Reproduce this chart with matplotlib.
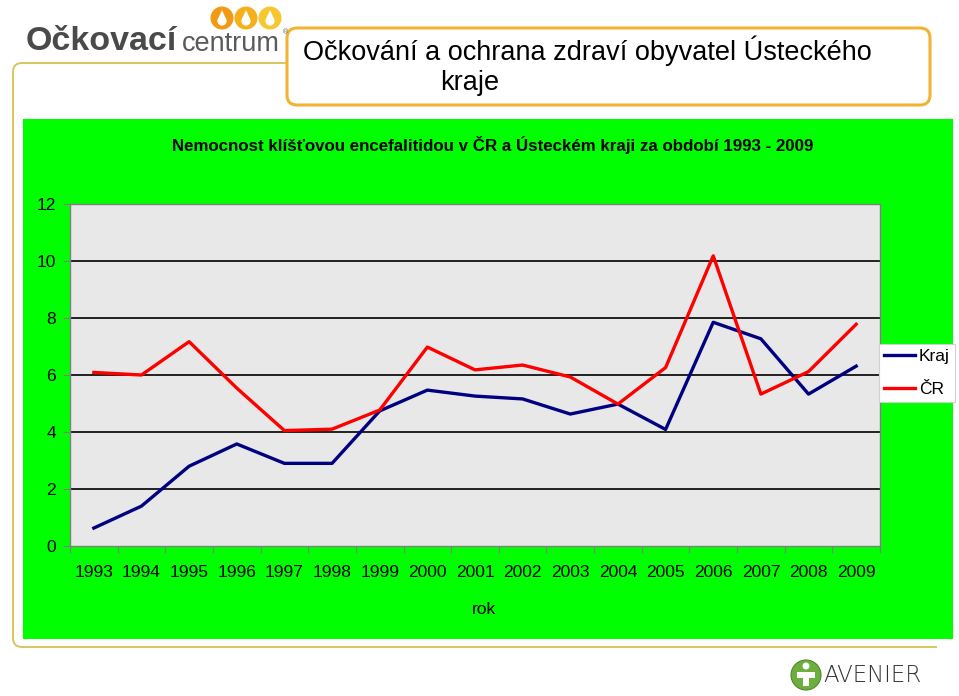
import matplotlib
matplotlib.use('Agg')
import matplotlib.pyplot as plt
from matplotlib.patches import FancyBboxPatch, Rectangle, Circle, Polygon, PathPatch
from matplotlib.path import Path
import numpy as np

# ---- data ----
years = [str(y) for y in range(1993, 2010)]
kraj = [0.63, 1.4, 2.8, 3.58, 2.9, 2.9, 4.74, 5.47, 5.26, 5.16, 4.63, 4.98, 4.09, 7.85, 7.27, 5.33, 6.31]
cr = [6.09, 6.0, 7.17, 5.54, 4.05, 4.1, 4.77, 6.98, 6.18, 6.35, 5.93, 4.98, 6.26, 10.18, 5.33, 6.12, 7.78]
y_ticks = [0, 2, 4, 6, 8, 10, 12]
series_labels = ['Kraj', 'ČR']

plt.rcParams['font.family'] = ['Liberation Sans', 'DejaVu Sans']

W, H = 959, 696
fig = plt.figure(figsize=(W / 100, H / 100), dpi=100)
fig.patch.set_facecolor('white')

# background overlay in pixel coordinates
bg = fig.add_axes([0, 0, 1, 1], zorder=0)
bg.set_xlim(0, W)
bg.set_ylim(H, 0)
bg.axis('off')

# decorative frame line (top-left, left, bottom)
frame_col = '#D8C55A'
verts = [(286, 63), (22, 63), (13, 63), (13, 72), (13, 638), (13, 647), (22, 647), (937, 647)]
codes = [Path.MOVETO, Path.LINETO, Path.CURVE3, Path.CURVE3, Path.LINETO, Path.CURVE3, Path.CURVE3, Path.LINETO]
bg.add_patch(PathPatch(Path(verts, codes), fc='none', ec=frame_col, lw=1.4))

# green chart area
bg.add_patch(Rectangle((23, 119), 930, 520, fc='#00FF00', ec='none'))

# title box
bg.add_patch(FancyBboxPatch((287, 28), 643, 77, boxstyle='round,pad=0,rounding_size=10',
                            fc='white', ec='#F2B233', lw=2.2))
bg.text(303, 51, 'Očkování a ochrana zdraví obyvatel Ústeckého', fontsize=19.5,
        ha='left', va='center', color='black')
bg.text(470, 83, 'kraje', fontsize=19.5, ha='center', va='center', color='black')

# logo "Očkovací centrum"
bg.text(26, 41, 'Očkovací', fontsize=24.5, fontweight='bold', color='#4A4A4A', ha='left', va='center')
bg.text(182, 44, 'centrum', fontsize=19.5, color='#5A5A5A', ha='left', va='center')
bg.text(283, 33, '®', fontsize=5, color='#5A5A5A', ha='left', va='center')
for cx, col in [(222, '#F29A14'), (246, '#F6B01C'), (270, '#F8C72E')]:
    bg.add_patch(Circle((cx, 18), 11.5, fc=col, ec='none'))
    bg.add_patch(Circle((cx, 21), 4.6, fc='white', ec='none'))
    bg.add_patch(Polygon([(cx - 4.3, 19.5), (cx + 4.3, 19.5), (cx, 10)], closed=True, fc='white', ec='none'))

# Avenier logo
bg.add_patch(Circle((806, 675), 15, fc='#6DAE3E', ec='#4E8A2A', lw=0.8))
bg.add_patch(Rectangle((797, 672), 18, 6, fc='white', ec='none'))
bg.add_patch(Rectangle((803, 672), 6, 14, fc='white', ec='none'))
bg.add_patch(Circle((806, 666), 3.5, fc='white', ec='none'))
bg.text(823, 676, 'AVENIER', fontsize=16.5, color='#333333', ha='left', va='center',
        family=['DejaVu Sans'], fontweight='light')

# chart title
bg.text(493, 145, 'Nemocnost klíšťovou encefalitidou v ČR a Ústeckém kraji za období 1993 - 2009',
        fontsize=12.2, fontweight='bold', ha='center', va='center', color='black',
        family=['Liberation Sans Narrow', 'Liberation Sans'])

# axis label
bg.text(484, 610, 'rok', fontsize=12.5, ha='center', va='center', color='black')

# ---- chart ----
ax = fig.add_axes([70 / W, 1 - 546 / H, 810 / W, 342 / H], zorder=2)
ax.set_facecolor('#E8E8E8')
x = np.arange(len(years))
for v in y_ticks[1:-1]:
    ax.axhline(v, color='black', lw=1.2, zorder=1)
ax.plot(x, kraj, color='#000080', lw=2.4, label=series_labels[0], zorder=3)
ax.plot(x, cr, color='#FF0000', lw=2.4, label=series_labels[1], zorder=3)
ax.set_xlim(-0.5, len(years) - 0.5)
ax.set_ylim(0, 12)
ax.set_yticks(y_ticks)
ax.set_xticks(x)
ax.set_xticklabels(years)
ax.set_xticks(np.arange(-0.5, len(years), 1), minor=True)
ax.tick_params(axis='x', which='major', length=0, pad=14, labelsize=12.5, labelcolor='black')
ax.tick_params(axis='x', which='minor', length=5, color='#808080', width=0.8)
ax.tick_params(axis='y', length=5, color='#808080', width=0.8, pad=5, labelsize=12.5, labelcolor='black')
for s in ax.spines.values():
    s.set_color('#808080')
    s.set_linewidth(1.0)

leg = ax.legend(loc='upper left', bbox_to_anchor=(879 / W, 1 - 344 / H), bbox_transform=fig.transFigure,
                frameon=True, fancybox=False, edgecolor='#D0D0D0', facecolor='white', framealpha=1,
                fontsize=12.5, handlelength=1.8, handletextpad=0.2, borderpad=0.3, labelspacing=1.0,
                borderaxespad=0)
leg.get_frame().set_linewidth(0.8)

fig.savefig('out.png', dpi=100)
